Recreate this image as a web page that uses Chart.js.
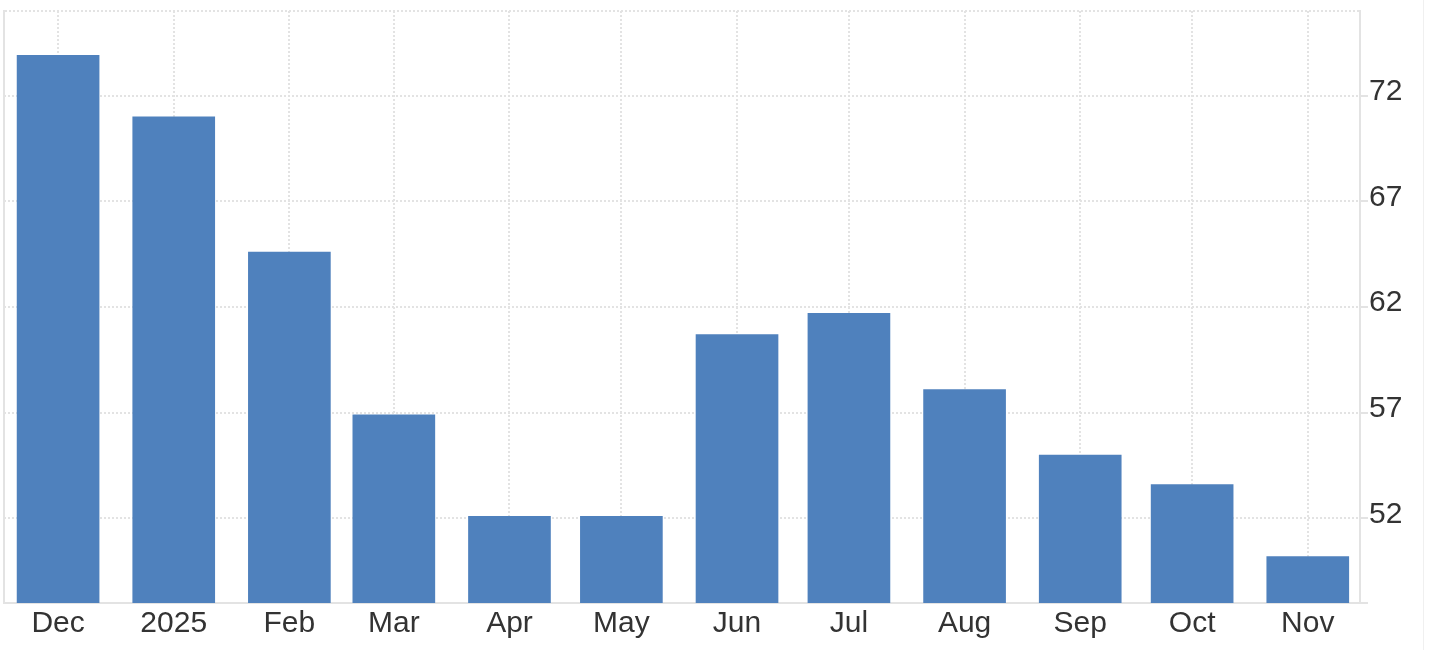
<!DOCTYPE html>
<html>
<head>
<meta charset="utf-8">
<script src="https://cdn.jsdelivr.net/npm/chart.js@4/dist/chart.umd.min.js"></script>
<style>
  html, body { margin: 0; padding: 0; background: #fff; }
  #wrap { width: 1423px; height: 650px; border-right: 1px solid #f0f0f0; position: relative; }
</style>
</head>
<body>
<div id="wrap"><canvas id="grafico"></canvas></div>
<script>
// month start dates, x labels and values
const months = ["2024-12-01", "2025-01-01", "2025-02-01", "2025-03-01", "2025-04-01", "2025-05-01",
  "2025-06-01", "2025-07-01", "2025-08-01", "2025-09-01", "2025-10-01", "2025-11-01"];
const tickLabels = ["Dec", "2025", "Feb", "Mar", "Apr", "May", "Jun", "Jul", "Aug", "Sep", "Oct", "Nov"];
const values = [73.9, 71.0, 64.6, 56.9, 52.1, 52.1, 60.7, 61.7, 58.1, 55.0, 53.6, 50.2];
const yTicks = [48, 52, 57, 62, 67, 72];
const yMin = 48;
const yMax = 76;

// days since first month, used as x positions on a linear axis
const start = Date.parse(months[0]);
const days = months.map(d => (Date.parse(d) - start) / 86400000);

const gridColor = "#e3e3e3";
const font = { family: "'Liberation Sans', Arial, Helvetica, sans-serif", size: 30 };

const config = {
  type: "bar",
  data: {
    datasets: [
      {
        data: days.map((d, i) => ({ x: d, y: values[i] })),
        backgroundColor: "#4f81bd",
        barThickness: 82,
        yAxisID: "y",
      },
    ],
  },
  options: {
    responsive: true,
    maintainAspectRatio: false,
    animation: false,
    layout: { padding: { left: 4, top: 11, right: 0, bottom: 5 } },
    plugins: { legend: { display: false }, tooltip: { enabled: false } },
    scales: {
      x: {
        type: "linear",
        offset: false,
        min: -14.5,
        max: 349,
        afterBuildTicks: (axis) => { axis.ticks = days.map(v => ({ value: v })); },
        ticks: {
          color: "#333",
          font: font,
          padding: 3,
          maxRotation: 0,
          autoSkip: false,
          callback: (v) => tickLabels[days.indexOf(v)],
        },
        grid: { color: gridColor, lineWidth: 2, offset: false, drawTicks: false },
        border: { color: gridColor, width: 2, dash: [2, 2] },
      },
      y: {
        position: "right",
        min: yMin,
        max: yMax,
        afterBuildTicks: (axis) => { axis.ticks = yTicks.map(v => ({ value: v })); },
        afterFit: (axis) => {
          axis.width = 63;
          axis.paddingTop = 0;
          axis.paddingBottom = 0;
        },
        ticks: {
          color: "#333",
          font: font,
          padding: 1,
          labelOffset: -4,
          callback: (v) => (v === yMin ? "" : v),
        },
        grid: { color: gridColor, lineWidth: 2, tickLength: 8, tickBorderDash: [] },
        border: { color: gridColor, width: 2, dash: [2, 2] },
      },
      y2: {
        position: "left",
        min: yMin,
        max: yMax,
        afterBuildTicks: (axis) => { axis.ticks = [{ value: yMax }]; },
        ticks: { display: false },
        grid: { color: gridColor, lineWidth: 2, drawTicks: false },
        border: { color: gridColor, width: 2, dash: [2, 2] },
      },
    },
  },
};

const myChart = new Chart(document.getElementById("grafico"), config);
</script>
</body>
</html>
